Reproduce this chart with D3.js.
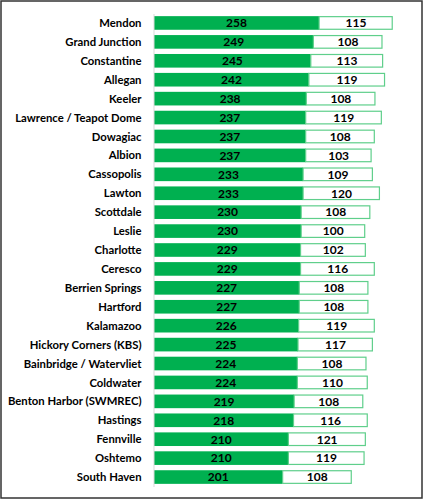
<!DOCTYPE html>
<html>
<head>
<meta charset="utf-8">
<script src="https://cdn.jsdelivr.net/npm/d3@7"></script>
<style>
  body { margin: 0; background: #fff; }
  svg text { font-family: Lato, "Open Sans", sans-serif; font-weight: bold; fill: #000; }
</style>
</head>
<body>
<div id="chart"></div>
<script>
// sites, in display order (top to bottom)
var sites = ["Mendon", "Grand Junction", "Constantine", "Allegan", "Keeler",
    "Lawrence / Teapot Dome", "Dowagiac", "Albion", "Cassopolis", "Lawton",
    "Scottdale", "Leslie", "Charlotte", "Ceresco", "Berrien Springs", "Hartford",
    "Kalamazoo", "Hickory Corners (KBS)", "Bainbridge / Watervliet", "Coldwater",
    "Benton Harbor (SWMREC)", "Hastings", "Fennville", "Oshtemo", "South Haven"];
// first (green) segment
var greenValues = [258, 249, 245, 242, 238, 237, 237, 237, 233, 233, 230, 230, 229,
    229, 227, 227, 226, 225, 224, 224, 219, 218, 210, 210, 201];
// second (white) segment
var whiteValues = [115, 108, 113, 119, 108, 119, 108, 103, 109, 120, 108, 100, 102,
    116, 108, 108, 119, 117, 108, 110, 108, 116, 121, 119, 108];

var width = 424, height = 500;
var svg = d3.select("#chart").append("svg")
    .attr("width", width)
    .attr("height", height);

// outer frame
svg.append("rect")
    .attr("x", 1).attr("y", 1)
    .attr("width", width - 3).attr("height", height - 3)
    .attr("fill", "none")
    .attr("stroke", "#333")
    .attr("stroke-width", 1.5);

var x = d3.scaleLinear().domain([0, 400]).range([154, 410]);
var y = d3.scaleBand().domain(sites).range([13.5, 486.5]).paddingInner(0.28).paddingOuter(0.14);

var rows = sites.map(function(s, i){
    return {site: s, green: greenValues[i], white: whiteValues[i]};
});

var g = svg.selectAll("g.row").data(rows).enter().append("g").attr("class", "row");

g.append("rect")
    .attr("x", x(0))
    .attr("y", function(d){ return y(d.site); })
    .attr("width", function(d){ return x(d.green) - x(0); })
    .attr("height", y.bandwidth())
    .attr("fill", "#00b050");

g.append("rect")
    .attr("x", function(d){ return x(d.green); })
    .attr("y", function(d){ return y(d.site) + 0.5; })
    .attr("width", function(d){ return x(d.green + d.white) - x(d.green) - 0.5; })
    .attr("height", y.bandwidth() - 1)
    .attr("fill", "#fff")
    .attr("stroke", "#5fcf8b")
    .attr("stroke-width", 1.2);

g.append("text")
    .attr("x", function(d){ return (x(0) + x(d.green)) / 2; })
    .attr("y", function(d){ return y(d.site) + y.bandwidth() / 2; })
    .attr("dy", "0.36em")
    .attr("text-anchor", "middle")
    .style("font-size", "12px")
    .text(function(d){ return d.green; });

g.append("text")
    .attr("x", function(d){ return (x(d.green) + x(d.green + d.white)) / 2; })
    .attr("y", function(d){ return y(d.site) + y.bandwidth() / 2; })
    .attr("dy", "0.36em")
    .attr("text-anchor", "middle")
    .style("font-size", "12px")
    .text(function(d){ return d.white; });

// category axis
var yAxis = svg.append("g")
    .attr("transform", "translate(" + (x(0) - 0.5) + ",0)")
    .call(d3.axisLeft(y).tickSize(0).tickPadding(12));
yAxis.select(".domain").attr("stroke", "#d9d9d9");
yAxis.selectAll("text")
    .attr("dy", "0.36em")
    .style("font-size", "11.3px")
    .style("font-family", "Lato, 'Open Sans', sans-serif")
    .style("font-weight", "bold");
</script>
</body>
</html>
